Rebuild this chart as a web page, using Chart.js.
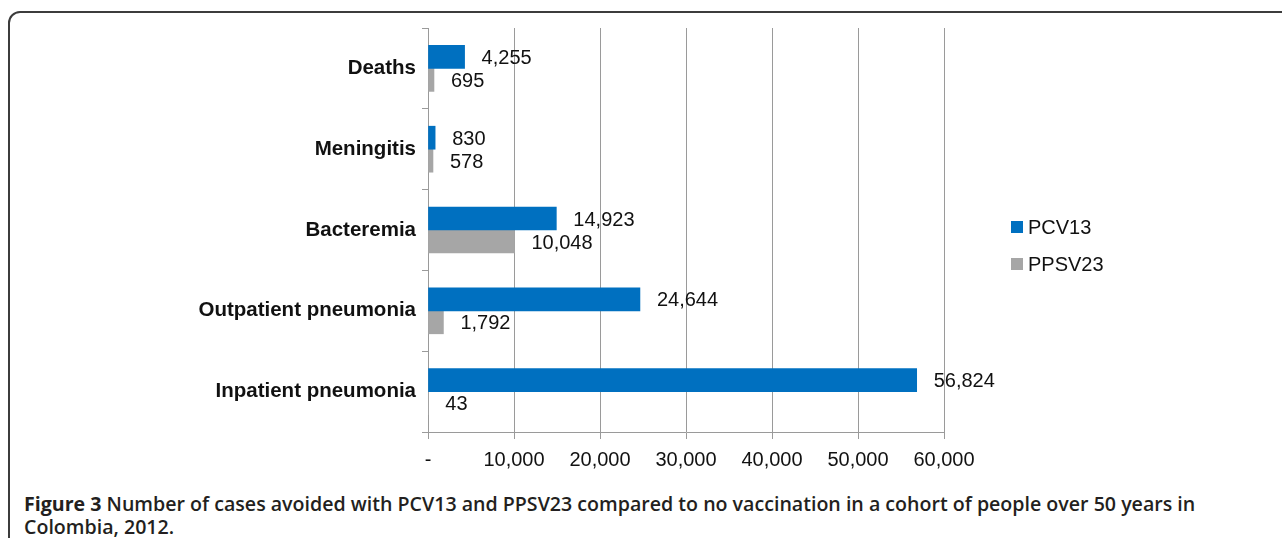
<!DOCTYPE html>
<html>
<head>
<meta charset="utf-8">
<script src="https://cdn.jsdelivr.net/npm/chart.js@4"></script>
<style>
  html, body { margin: 0; padding: 0; background: #fff; }
  body { width: 1282px; height: 538px; overflow: hidden; position: relative; }
  #frame {
    position: absolute; left: 8px; top: 11px; width: 1300px; height: 560px;
    border: 2px solid #3c3c3c; border-radius: 12px; box-sizing: border-box;
  }
  #wrap { position: absolute; left: 0; top: 0; width: 1282px; height: 490px; }
  #caption {
    position: absolute; left: 24px; top: 492px; width: 1200px;
    font-family: "Open Sans", sans-serif; font-size: 19.6px; line-height: 23px;
    font-weight: 600; color: #231f20;
  }
  #caption b { font-weight: 700; }
</style>
</head>
<body>
<div id="frame"></div>
<div id="wrap"><canvas id="chart"></canvas></div>
<div id="caption"><b>Figure 3</b> Number of cases avoided with PCV13 and PPSV23 compared to no vaccination in a cohort of people over 50 years in Colombia, 2012.</div>
<script>
const categories = ['Deaths', 'Meningitis', 'Bacteremia', 'Outpatient pneumonia', 'Inpatient pneumonia'];
const pcv13 = [4255, 830, 14923, 24644, 56824];
const ppsv23 = [695, 578, 10048, 1792, 43];
const xTickLabels = ['-', '10,000', '20,000', '30,000', '40,000', '50,000', '60,000'];

const fontFamily = '"Liberation Sans", Arial, sans-serif';

const valueLabels = {
  id: 'valueLabels',
  afterDatasetsDraw(chart) {
    const ctx = chart.ctx;
    ctx.save();
    ctx.font = '20px ' + fontFamily;
    ctx.fillStyle = '#111';
    ctx.textAlign = 'left';
    ctx.textBaseline = 'middle';
    chart.data.datasets.forEach((ds, i) => {
      chart.getDatasetMeta(i).data.forEach((bar, j) => {
        ctx.fillText(ds.data[j].toLocaleString('en-US'), bar.x + 17, bar.y + 1.5);
      });
    });
    ctx.restore();
  }
};

const sideLegend = {
  id: 'sideLegend',
  afterDraw(chart) {
    const ctx = chart.ctx;
    const area = chart.chartArea;
    ctx.save();
    ctx.font = '20px ' + fontFamily;
    ctx.textBaseline = 'middle';
    chart.data.datasets.forEach((ds, i) => {
      const x = area.right + 67;
      const y = (area.top + area.bottom) / 2 - 3 + i * 37;
      ctx.fillStyle = ds.backgroundColor;
      ctx.fillRect(x, y - 6, 12, 12);
      ctx.fillStyle = '#111';
      ctx.fillText(ds.label, x + 17, y + 1);
    });
    ctx.restore();
  }
};

new Chart(document.getElementById('chart'), {
  type: 'bar',
  data: {
    labels: categories,
    datasets: [
      { label: 'PCV13', data: pcv13, backgroundColor: '#0070c0', barThickness: 23 },
      { label: 'PPSV23', data: ppsv23, backgroundColor: '#a6a6a6', barThickness: 23 }
    ]
  },
  options: {
    indexAxis: 'y',
    responsive: true,
    maintainAspectRatio: false,
    animation: false,
    layout: { padding: { left: 0, top: 28, right: 338, bottom: 0 } },
    plugins: { legend: { display: false }, tooltip: { enabled: false } },
    scales: {
      x: {
        min: 0,
        max: 60000,
        ticks: {
          stepSize: 10000,
          padding: 9,
          color: '#111',
          font: { family: fontFamily, size: 20 },
          callback: (v, i) => xTickLabels[i]
        },
        grid: { color: '#9a9a9a', tickLength: 7, lineWidth: 1 },
        border: { color: '#9a9a9a' },
        afterFit: (scale) => { scale.height = 58; }
      },
      y: {
        ticks: {
          padding: 6,
          color: '#111',
          font: { family: fontFamily, size: 20.5, weight: 'bold' }
        },
        grid: { drawOnChartArea: false, color: '#9a9a9a', tickLength: 6, offset: true },
        border: { color: '#9a9a9a' },
        afterFit: (scale) => { scale.width = 428; }
      }
    }
  },
  plugins: [valueLabels, sideLegend]
});
</script>
</body>
</html>
